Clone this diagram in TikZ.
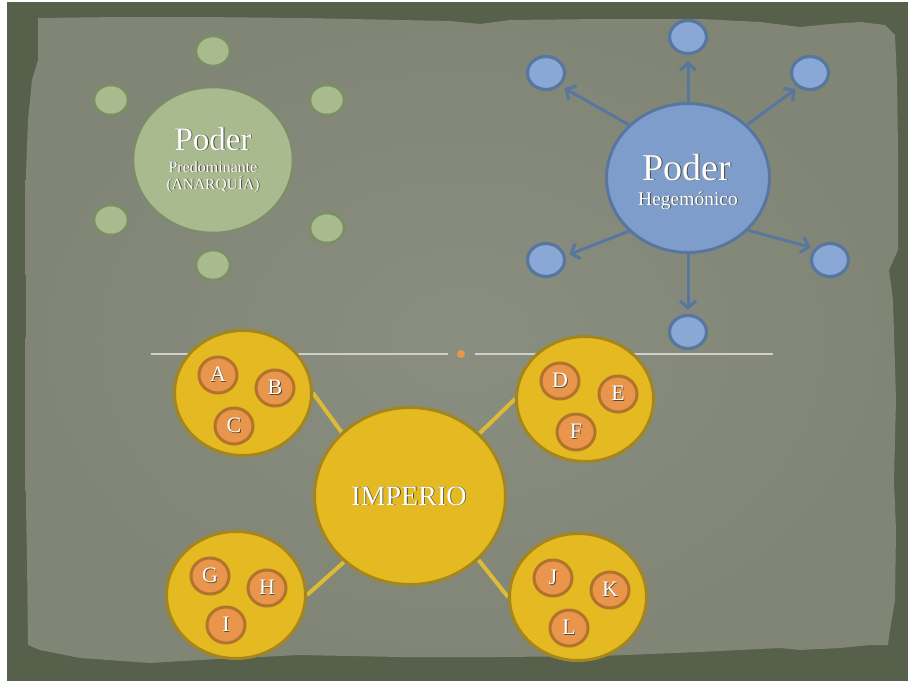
\documentclass[tikz,border=0pt]{standalone}
\usepackage{fontspec}
\setmainfont{Liberation Serif}
\usetikzlibrary{shapes.geometric,arrows.meta}

% palette
\definecolor{frame}{HTML}{56604A}
\definecolor{paperhi}{HTML}{8A8E80}
\definecolor{paperlo}{HTML}{808576}
\definecolor{gfill}{HTML}{A8BA8E}
\definecolor{gline}{HTML}{7A8F62}
\definecolor{bfill}{HTML}{7E9DCA}
\definecolor{bsat}{HTML}{8AA8D5}
\definecolor{bline}{HTML}{58779F}
\definecolor{yfill}{HTML}{E4B922}
\definecolor{yline}{HTML}{A3861E}
\definecolor{ylink}{HTML}{DDBB36}
\definecolor{ofill}{HTML}{E9964C}
\definecolor{oline}{HTML}{B2732C}
\definecolor{rulec}{HTML}{D0D0C8}
\definecolor{txtshadow}{HTML}{4A4A40}

% white text with a small drop shadow
\newcommand\shtxt[1]{\leavevmode\rlap{\kern0.9pt\raisebox{-0.9pt}{\textcolor{txtshadow}{#1}}}#1}

\pgfdeclarelayer{paper}
\pgfdeclarelayer{links}
\pgfsetlayers{paper,links,main}

\tikzset{
  gsat/.style={ellipse, draw=gline, fill=gfill, line width=2.5pt,
    minimum width=34pt, minimum height=30pt, inner sep=0pt},
  ghub/.style={ellipse, draw=gline, fill=gfill, line width=1.5pt,
    minimum width=159pt, minimum height=145pt, inner sep=0pt},
  bsatstyle/.style={ellipse, draw=bline, fill=bsat, line width=3.2pt,
    minimum width=37pt, minimum height=33pt, inner sep=0pt},
  bhub/.style={ellipse, draw=bline, fill=bfill, line width=3pt,
    minimum width=163pt, minimum height=149pt, inner sep=0pt},
  yhub/.style={ellipse, draw=yline, fill=yfill, line width=3pt,
    minimum width=191pt, minimum height=177pt, inner sep=0pt},
  ysat/.style={ellipse, draw=yline, fill=yfill, line width=3pt,
    minimum width=137pt, minimum height=125pt, inner sep=0pt},
  letter/.style={ellipse, draw=oline, fill=ofill, line width=3pt,
    minimum width=38pt, minimum height=36pt, inner sep=0pt,
    text=white, font=\fontsize{22}{22}\selectfont},
  hubtext/.style={inner sep=0pt, text=white, anchor=base},
  ylinkstyle/.style={draw=ylink, line width=4pt},
  barrow/.style={draw=bline, line width=3pt,
    -{Straight Barb[length=7pt,width=16pt,line width=3.2pt]}},
  rule/.style={draw=rulec, line width=1.3pt},
  dotstyle/.style={circle, fill=ofill, minimum size=8pt, inner sep=0pt}
}

\begin{document}
\begin{tikzpicture}[x=1pt,y=-1pt]
\useasboundingbox (0,0) rectangle (908,681);

% torn paper on a dark frame
\begin{pgfonlayer}{paper}
  \fill[white] (0,0) rectangle (908,681);
  \fill[frame] (7,2) rectangle (908,681);
  \shade[inner color=paperhi, outer color=paperlo]
    (38,18) -- (120,17) -- (200,17) -- (300,18) -- (400,20) -- (450,21)
    -- (480,24) -- (510,20) -- (600,19) -- (700,19) -- (760,22) -- (800,27)
    -- (830,24) -- (860,22) -- (885,25) -- (895,35) -- (897,80) -- (898,150)
    -- (898,250) -- (889,270) -- (893,300) -- (896,400) -- (894,480)
    -- (896,530) -- (895,600) -- (890,630) -- (888,645) -- (870,645)
    -- (840,648) -- (800,650) -- (780,648) -- (700,652) -- (600,656)
    -- (500,657) -- (400,657) -- (300,655) -- (200,660) -- (150,663)
    -- (80,658) -- (40,650) -- (28,645) -- (27,560) -- (25,450) -- (26,300)
    -- (25,200) -- (28,120) -- (32,80) -- (38,60) -- cycle;
\end{pgfonlayer}

% ---------- predominant power (green) ----------
\node[ghub] (gh) at (213,160) {};
\node[gsat] (g1) at (213,51) {};
\node[gsat] (g2) at (111,100) {};
\node[gsat] (g3) at (327,100) {};
\node[gsat] (g4) at (111,220) {};
\node[gsat] (g5) at (327,228) {};
\node[gsat] (g6) at (213,265) {};
\node[hubtext, font=\fontsize{33}{33}\selectfont] (gt1) at (213,150) {\shtxt{Poder}};
\node[hubtext, font=\fontsize{16}{16}\selectfont] (gt2) at (213,172) {\shtxt{Predominante}};
\node[hubtext, font=\fontsize{15.5}{16}\selectfont] (gt3) at (213,189) {\shtxt{(ANARQUÍA)}};

% ---------- hegemonic power (blue) ----------
\node[bhub] (bh) at (688,178) {};
\node[bsatstyle] (b1) at (688,37) {};
\node[bsatstyle] (b2) at (546,73) {};
\node[bsatstyle] (b3) at (810,73) {};
\node[bsatstyle] (b4) at (546,260) {};
\node[bsatstyle] (b5) at (830,260) {};
\node[bsatstyle] (b6) at (688,332) {};
\node[hubtext, font=\fontsize{38}{38}\selectfont] (bt1) at (687,180) {\shtxt{Poder}};
\node[hubtext, font=\fontsize{19.5}{20}\selectfont] (bt2) at (688,205) {\shtxt{Hegemónico}};

\draw[barrow, shorten >=6pt] (bh.90)  -- (b1.270);
\draw[barrow, shorten >=5pt] (bh.138) -- (b2.318);
\draw[barrow, shorten >=3pt] (bh.42)  -- (b3.230);
\draw[barrow, shorten >=4pt] (bh.222) -- (b4.12);
\draw[barrow, shorten >=4pt] (bh.319) -- (b5.143);
\draw[barrow, shorten >=4pt] (bh.270) -- (b6.90);

% ---------- empire (yellow) ----------
\node[yhub] (imp) at (410,496) {};
\node[hubtext, font=\fontsize{28}{28}\selectfont] (it) at (409,505) {\shtxt{IMPERIO}};

\node[ysat] (q1) at (243,393) {};
\node[ysat] (q2) at (585,399) {};
\node[ysat, minimum width=139pt, minimum height=127pt] (q3) at (236,595) {};
\node[ysat, minimum width=137pt, minimum height=127pt] (q4) at (578,597) {};

\node[letter] (A) at (218,375) {\shtxt{A}};
\node[letter] (B) at (275,388) {\shtxt{B}};
\node[letter] (C) at (234,426) {\shtxt{C}};
\node[letter] (D) at (560,381) {\shtxt{D}};
\node[letter] (E) at (618,394) {\shtxt{E}};
\node[letter] (F) at (576,432) {\shtxt{F}};
\node[letter] (G) at (210,576) {\shtxt{G}};
\node[letter] (H) at (267,588) {\shtxt{H}};
\node[letter] (I) at (226,625) {\shtxt{I}};
\node[letter] (J) at (553,578) {\shtxt{J}};
\node[letter] (K) at (610,590) {\shtxt{K}};
\node[letter] (L) at (569,628) {\shtxt{L}};

% divider rule with its dot
\node[dotstyle] (dt) at (461,354) {};
\coordinate (rl) at (151,354);
\coordinate (rr) at (773,354);

\begin{pgfonlayer}{links}
  \draw[rule] (rl) -- ([xshift=-13pt]dt.center);
  \draw[rule] ([xshift=14pt]dt.center) -- (rr);
  \draw[ylinkstyle] (q1.east) -- (imp.137);
  \draw[ylinkstyle] (q2.west) -- (imp.42);
  \draw[ylinkstyle] (q3.east) -- (imp.225);
  \draw[ylinkstyle] (q4.west) -- (imp.317);
\end{pgfonlayer}
\end{tikzpicture}
\end{document}
